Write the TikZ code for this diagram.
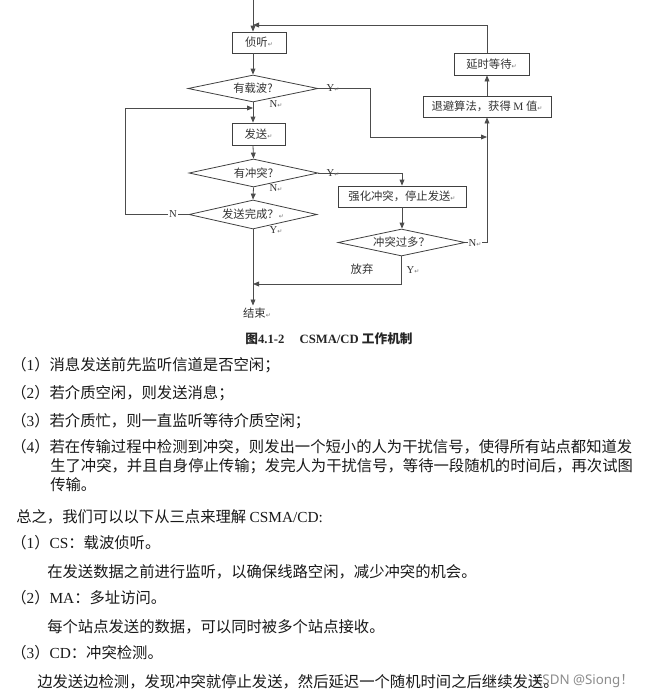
\documentclass[tikz,border=0pt]{standalone}
\usepackage{fontspec}
\setmainfont{Liberation Serif}
\newfontfamily\cjk{Noto Sans CJK SC}
\newfontfamily\dvs{DejaVu Sans}
\newfontfamily\wmfont{Noto Sans}
\usetikzlibrary{shapes.geometric,arrows.meta}
\newcommand{\rt}{{\dvs\fontsize{4.5}{5}\selectfont\textcolor{black!55}{↵}}}
\tikzset{
  flow/.style={draw=black!70, line width=0.6pt},
  arr/.style={flow, -{Triangle[length=4.5pt,width=3.6pt]}},
  box/.style={draw=black!75, line width=0.6pt, inner sep=0pt, font=\cjk\fontsize{8.5}{10}\selectfont, text=black!80},
  dia/.style={diamond, draw=black!75, line width=0.6pt, inner sep=0pt, aspect=4, font=\cjk\fontsize{8.5}{10}\selectfont, text=black!80},
  lab/.style={inner sep=0.5pt, font=\fontsize{8}{9}\selectfont, text=black!80},
  txt/.style={anchor=west, inner sep=0pt, font=\cjk\fontsize{11.5}{13}\selectfont, text=black!90},
}
\begin{document}
\begin{tikzpicture}[x=0.75pt,y=-0.75pt]
\useasboundingbox[fill=white] (0,0) rectangle (648,697);

% ---- nodes of the flow chart
\node[box, minimum width=40.5pt, minimum height=15.75pt] (b1) at (259,42.5) {侦听\rt};
\node[dia, minimum width=97.5pt, minimum height=20.25pt] (d1) at (253,88.5) {有载波?};
\node[box, minimum width=39.75pt, minimum height=16.5pt] (b2) at (258.5,134) {发送\rt};
\node[dia, minimum width=96.75pt, minimum height=21pt] (d2) at (253.5,173) {有冲突?};
\node[dia, minimum width=96pt, minimum height=21.75pt] (d3) at (253,214.5) {发送完成？\rt};
\node[inner sep=1.5pt, font=\cjk\fontsize{8.5}{10}\selectfont, text=black!80] (endn) at (257,313) {结束\rt};
\node[box, minimum width=96pt, minimum height=15.75pt] (b3) at (402,196.5) {强化冲突，停止发送\rt};
\node[dia, minimum width=95.25pt, minimum height=20.25pt] (d4) at (401.5,242.5) {冲突过多？};
\node[box, minimum width=96pt, minimum height=15.75pt] (b4) at (487,106.5) {退避算法，获得 {\rmfamily M} 值\rt};
\node[box, minimum width=56.25pt, minimum height=16.5pt] (b5) at (491.5,64) {延时等待\rt};

% ---- coordinates for bends and junctions
\coordinate (top) at (253,0);
\coordinate (jtop) at (253,25);
\coordinate (rtop) at (487,25);
\coordinate (yb1) at (370,88.5);
\coordinate (yb2) at (370,137);
\coordinate (jr) at (487,137);
\coordinate (l1) at (125,214.5);
\coordinate (l2) at (125,108);
\coordinate (jl) at (253,108);
\coordinate (jb) at (253,284);

% ---- connectors
\draw[arr] (top) -- (top |- b1.north);
\draw[arr] (b1.south -| d1.north) -- (d1.north);
\draw[arr] (d1.south) -- (d1.south |- b2.north);
\draw[arr] (d1.south |- b2.south) -- (d2.north);
\draw[arr] (d2.south) -- (d3.north);
\draw[arr] (d3.south) -- (d3.south |- endn.north);
\draw[arr] (d1.east) -- (yb1) -- (yb2) -- (jr);
\draw[arr] (d3.west) -- (l1) -- (l2) -- (jl);
\draw[arr] (d2.east) -| (b3.north);
\draw[arr] (b3.south) -- (b3.south |- d4.north);
\draw[arr] (d4.south) |- (jb);
\draw[arr] (d4.east) -| (b4.south);
\draw[arr] (b4.north) -- (b4.north |- b5.south);
\draw[arr] (b4.north |- b5.north) -- (rtop) -- (jtop);

% ---- branch labels
\node[lab] (ly1) at (333,88.5) {Y\rt};
\node[lab] (ln1) at (276,104) {N\rt};
\node[lab] (ly2) at (333,173) {Y\rt};
\node[lab] (ln2) at (276,188) {N\rt};
\node[lab, fill=white] (ln3) at (173,214.5) {N};
\node[lab] (ly3) at (276,230) {Y\rt};
\node[lab, fill=white] (ln4) at (475,243) {N\rt};
\node[lab] (ly4) at (413,270) {Y\rt};
\node[lab, font=\cjk\fontsize{8.5}{10}\selectfont] (lgive) at (362,269) {放弃};

% ---- caption
\node[inner sep=0pt, font=\fontsize{9.5}{11}\selectfont\bfseries, text=black!85] (cap) at (329,339)
  {{\cjk 图}4.1-2\hspace{1.2em}CSMA/CD {\cjk 工作机制}};

% ---- watermark
\node[anchor=east, inner sep=0pt, font=\wmfont\fontsize{10}{12}\selectfont, text=black!45] (wm) at (634,681)
  {CSDN @Siong{\cjk ！}};

% ---- body text
\node[txt] (t1) at (11,365) {（{\rmfamily 1}）消息发送前先监听信道是否空闲；};
\node[txt] (t2) at (11,393) {（{\rmfamily 2}）若介质空闲，则发送消息；};
\node[txt] (t3) at (11,421) {（{\rmfamily 3}）若介质忙，则一直监听等待介质空闲；};
\node[txt] (t4a) at (11,447) {（{\rmfamily 4}）若在传输过程中检测到冲突，则发出一个短小的人为干扰信号，使得所有站点都知道发};
\node[txt] (t4b) at (50,466) {生了冲突，并且自身停止传输；发完人为干扰信号，等待一段随机的时间后，再次试图};
\node[txt] (t4c) at (50,485) {传输。};
\node[txt] (t5) at (16,517) {总之，我们可以以下从三点来理解 {\rmfamily CSMA/CD:}};
\node[txt] (t6) at (11,543) {（{\rmfamily 1}）{\rmfamily CS}：载波侦听。};
\node[txt] (t7) at (47,572) {在发送数据之前进行监听，以确保线路空闲，减少冲突的机会。};
\node[txt] (t8) at (11,598) {（{\rmfamily 2}）{\rmfamily MA}：多址访问。};
\node[txt] (t9) at (47,627) {每个站点发送的数据，可以同时被多个站点接收。};
\node[txt] (t10) at (11,653) {（{\rmfamily 3}）{\rmfamily CD}：冲突检测。};
\node[txt] (t11) at (37,682) {边发送边检测，发现冲突就停止发送，然后延迟一个随机时间之后继续发送。};
\end{tikzpicture}
\end{document}
